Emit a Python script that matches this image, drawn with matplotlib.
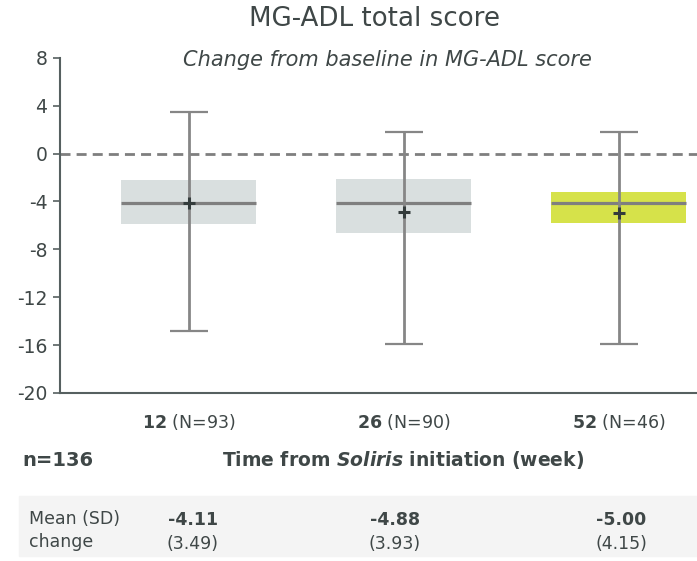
import numpy as np
import matplotlib
matplotlib.use("Agg")
import matplotlib.pyplot as plt
from matplotlib.patches import Rectangle

# semanas de seguimiento y tamano de muestra
semanas = ["12", "26", "52"]
n_semana = ["(N=93)", "(N=90)", "(N=46)"]

# cajas: cuartiles, mediana y bigotes (cambio en MG-ADL)
q1 = [-5.9, -6.6, -5.8]
q3 = [-2.2, -2.1, -3.2]
mediana = [-4.1, -4.1, -4.1]
bigote_min = [-14.8, -15.9, -15.9]
bigote_max = [3.5, 1.8, 1.8]

# media y desviacion estandar del cambio
media = [-4.11, -4.88, -5.00]
sd = [3.49, 3.93, 4.15]

colores_caja = ["#d9dfdf", "#d9dfdf", "#d6e24a"]
TEXTO = "#3f4747"
GRIS = "#868686"

W, H = 697, 561
plt.rcParams["axes.unicode_minus"] = False
plt.rcParams["font.family"] = "DejaVu Sans"
plt.rcParams["mathtext.fontset"] = "dejavusans"


# convierte pixeles (desde arriba a la izquierda) a coordenadas de figura
def fx(px):
    return px / W


def fy(py):
    return 1 - py / H


fig = plt.figure(figsize=(W / 100, H / 100), dpi=100)
ax = fig.add_axes([fx(60), fy(393), fx(697) - fx(60), fy(57.7) - fy(393)])

pos = np.arange(len(semanas))
q1 = np.array(q1)
q3 = np.array(q3)

# linea de referencia en cero
ax.axhline(0, color="#7f7f7f", lw=2, ls=(0, (3.6, 2.2)), zorder=1)

# cajas
ancho = 0.628
ax.bar(pos, q3 - q1, bottom=q1, width=ancho, color=colores_caja, zorder=2)
ax.hlines(mediana, pos - ancho / 2, pos + ancho / 2, color="#7f7f7f", lw=2.3, zorder=3)

# bigotes con sus topes
ax.vlines(pos, bigote_min, bigote_max, color=GRIS, lw=2, zorder=4)
ax.hlines(bigote_min, pos - 0.09, pos + 0.09, color=GRIS, lw=1.6, zorder=4)
ax.hlines(bigote_max, pos - 0.09, pos + 0.09, color=GRIS, lw=1.6, zorder=4)

# media
ax.plot(pos, media, "+", ms=8.5, mew=2.2, color="#333b3b", zorder=5, ls="none")

ax.set_xlim(-0.6, 2.363)
ax.set_ylim(-20, 8)
ax.set_yticks(range(-20, 9, 4))
ax.set_xticks(pos, labels=[rf"$\mathbf{{{s}}}$ {n}" for s, n in zip(semanas, n_semana)])

for lado in ["top", "right"]:
    ax.spines[lado].set_visible(False)
for lado in ["left", "bottom"]:
    ax.spines[lado].set_color("#566060")
    ax.spines[lado].set_linewidth(1.5)

ax.tick_params(axis="y", length=5, width=1.2, color="#566060", labelsize=13.5,
               labelcolor=TEXTO, pad=4)
ax.tick_params(axis="x", length=0, labelsize=12.5, labelcolor=TEXTO, pad=14)

# titulos
fig.text(fx(375), fy(19), "MG-ADL total score", ha="center", va="center",
         size=18.8, color=TEXTO)
fig.text(fx(387), fy(60), "Change from baseline in MG-ADL score", ha="center",
         va="center", size=15, style="italic", color=TEXTO)

fig.text(fx(22), fy(460), "n=136", ha="left", va="center", size=14,
         weight="bold", color=TEXTO)
fig.text(fx(403.5), fy(460), r"Time from $\mathbfit{Soliris}$ initiation (week)",
         ha="center", va="center", size=13.5, weight="bold", color=TEXTO)

# tabla de medias
fig.add_artist(Rectangle((fx(19), fy(556)), fx(697) - fx(19), fy(496) - fy(556),
                         transform=fig.transFigure, color="#f4f4f4", zorder=0))
fig.text(fx(29), fy(519), "Mean (SD)", ha="left", va="center", size=12.5, color=TEXTO)
fig.text(fx(29), fy(542), "change", ha="left", va="center", size=12.5, color=TEXTO)

col_x = [193, 395, 621.5]
for cx, m, s in zip(col_x, media, sd):
    fig.text(fx(cx), fy(520), f"{m:.2f}", ha="center", va="center", size=12.5,
             weight="bold", color=TEXTO)
    fig.text(fx(cx), fy(544), f"({s:.2f})", ha="center", va="center", size=12.5,
             color=TEXTO)

fig.savefig("out.png", dpi=100)
